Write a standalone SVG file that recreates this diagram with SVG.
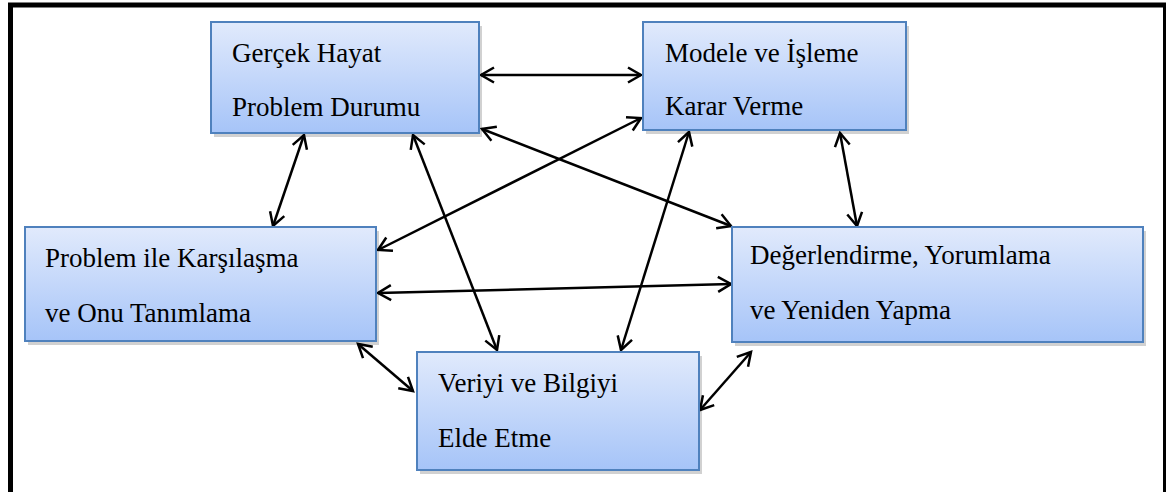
<svg xmlns="http://www.w3.org/2000/svg" width="1166" height="492" viewBox="0 0 1166 492">
<defs>
<linearGradient id="g" x1="0" y1="0" x2="0" y2="1">
<stop offset="0" stop-color="#e1eafc"/>
<stop offset="1" stop-color="#a6c4f8"/>
</linearGradient>
<marker id="a" markerUnits="userSpaceOnUse" viewBox="-16 -10 18 20" markerWidth="18" markerHeight="20" refX="0" refY="0" orient="auto-start-reverse" overflow="visible">
<path d="M-13,-7.5 L0,0 L-13,7.5" fill="none" stroke="#000" stroke-width="2.5"/>
</marker>
</defs>
<rect x="0" y="0" width="1166" height="492" fill="#fff"/>
<rect x="10.5" y="5" width="1155" height="600" fill="none" stroke="#000" stroke-width="5"/>
<g id="connectors" stroke="#000" stroke-width="2.5" fill="none" marker-start="url(#a)" marker-end="url(#a)">
<line x1="481" y1="75" x2="641" y2="75"/>
<line x1="482" y1="129" x2="731" y2="226"/>
<line x1="641" y1="118" x2="378" y2="250"/>
<line x1="378" y1="293" x2="731" y2="284"/>
<line x1="413" y1="135" x2="497" y2="350"/>
<line x1="689" y1="132" x2="621" y2="350"/>
<line x1="304" y1="135" x2="273" y2="226"/>
<line x1="840" y1="133" x2="857" y2="226"/>
<line x1="358" y1="344" x2="413" y2="391"/>
<line x1="700" y1="410" x2="751" y2="352"/>
</g>
<g id="n1">
<rect x="214" y="26" width="268" height="111" fill="#000" fill-opacity="0.18"/>
<rect x="211" y="22" width="268" height="111" fill="url(#g)" stroke="#4f81bd" stroke-width="2"/>
<text x="232" y="62" font-family="'Times New Roman', 'Liberation Serif', serif" font-size="27">Gerçek Hayat</text>
<text x="232" y="116" font-family="'Times New Roman', 'Liberation Serif', serif" font-size="27">Problem Durumu</text>
</g>
<g id="n2">
<rect x="646" y="26" width="263" height="108" fill="#000" fill-opacity="0.18"/>
<rect x="643" y="22" width="263" height="108" fill="url(#g)" stroke="#4f81bd" stroke-width="2"/>
<text x="665" y="62" font-family="'Times New Roman', 'Liberation Serif', serif" font-size="27">Modele ve İşleme</text>
<text x="665" y="115" font-family="'Times New Roman', 'Liberation Serif', serif" font-size="27">Karar Verme</text>
</g>
<g id="n3">
<rect x="28" y="231" width="351" height="114" fill="#000" fill-opacity="0.18"/>
<rect x="25" y="227" width="351" height="114" fill="url(#g)" stroke="#4f81bd" stroke-width="2"/>
<text x="45" y="267" font-family="'Times New Roman', 'Liberation Serif', serif" font-size="27">Problem ile Karşılaşma</text>
<text x="45" y="322" font-family="'Times New Roman', 'Liberation Serif', serif" font-size="27">ve Onu Tanımlama</text>
</g>
<g id="n4">
<rect x="735" y="231" width="411" height="115" fill="#000" fill-opacity="0.18"/>
<rect x="732" y="227" width="411" height="115" fill="url(#g)" stroke="#4f81bd" stroke-width="2"/>
<text x="750" y="264" font-family="'Times New Roman', 'Liberation Serif', serif" font-size="27">Değerlendirme, Yorumlama</text>
<text x="750" y="319" font-family="'Times New Roman', 'Liberation Serif', serif" font-size="27">ve Yeniden Yapma</text>
</g>
<g id="n5">
<rect x="420" y="356" width="282" height="118" fill="#000" fill-opacity="0.18"/>
<rect x="417" y="352" width="282" height="118" fill="url(#g)" stroke="#4f81bd" stroke-width="2"/>
<text x="438" y="392" font-family="'Times New Roman', 'Liberation Serif', serif" font-size="27">Veriyi ve Bilgiyi</text>
<text x="438" y="447" font-family="'Times New Roman', 'Liberation Serif', serif" font-size="27">Elde Etme</text>
</g>
</svg>
